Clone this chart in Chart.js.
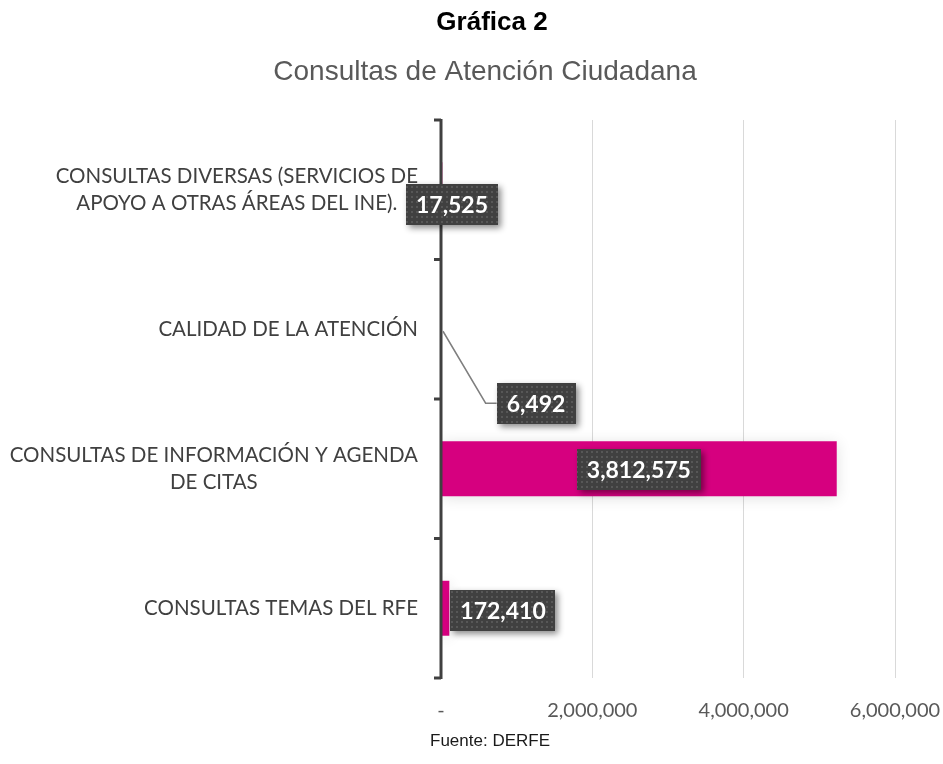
<!DOCTYPE html>
<html>
<head>
<meta charset="utf-8">
<script src="https://cdn.jsdelivr.net/npm/chart.js@4.4.1/dist/chart.umd.min.js"></script>
<style>
  html, body { margin: 0; padding: 0; background: #fff; }
  #wrap { width: 943px; height: 764px; position: relative; }
</style>
</head>
<body>
<div id="wrap"><canvas id="chart"></canvas></div>
<script>
// ----------- Data -----------
const categories = [
  ["CONSULTAS DIVERSAS (SERVICIOS DE", "APOYO A OTRAS ÁREAS DEL INE)."],
  ["CALIDAD DE LA ATENCIÓN"],
  ["CONSULTAS DE INFORMACIÓN Y AGENDA", "DE CITAS"],
  ["CONSULTAS TEMAS DEL RFE"],
];
// bar lengths as drawn in the picture
const barValues = [17525, 6492, 5230000, 110000];
// numbers printed on the labels
const labelTexts = ["17,525", "6,492", "3,812,575", "172,410"];
const xTicks = [0, 2000000, 4000000, 6000000];

const titleText = "Gráfica 2";
const subtitleText = "Consultas de Atención Ciudadana";
const sourceText = "Fuente: DERFE";

const MAGENTA = "#d6007f";
const LABEL_FONT = "Lato, 'Open Sans', sans-serif";

// dotted fill for the label boxes
function makeDotPattern(ctx) {
  const c = document.createElement("canvas");
  c.width = 5; c.height = 5;
  const p = c.getContext("2d");
  p.fillStyle = "#404040";
  p.fillRect(0, 0, 5, 5);
  p.fillStyle = "#575757";
  p.fillRect(1, 1, 2, 2);
  return ctx.createPattern(c, "repeat");
}

// ----------- Plugins -----------
const textPlugin = {
  id: "texts",
  afterDraw(chart) {
    const ctx = chart.ctx;
    ctx.save();
    ctx.textAlign = "center";
    ctx.textBaseline = "middle";
    ctx.fillStyle = "#000";
    ctx.font = "bold 26px 'Liberation Sans', Arial, sans-serif";
    ctx.fillText(titleText, 492, 23);
    ctx.fillStyle = "#595959";
    ctx.font = "28px 'Liberation Sans', Arial, sans-serif";
    ctx.fillText(subtitleText, 485, 72);
    ctx.fillStyle = "#1a1a1a";
    ctx.font = "17px 'Liberation Sans', Arial, sans-serif";
    ctx.fillText(sourceText, 490, 741);
    ctx.restore();
  },
};

// category labels: lines centered, block right-aligned
const catLabelPlugin = {
  id: "catLabels",
  afterDraw(chart) {
    const ctx = chart.ctx;
    const y = chart.scales.y;
    const right = chart.chartArea.left - 23;
    const lh = 27;
    ctx.save();
    ctx.font = "20.5px " + LABEL_FONT;
    ctx.fillStyle = "#404040";
    ctx.textAlign = "center";
    ctx.textBaseline = "middle";
    categories.forEach((lines, i) => {
      const cy = y.getPixelForValue(i);
      const w = Math.max(...lines.map((l) => ctx.measureText(l).width));
      const cx = right - w / 2;
      lines.forEach((l, k) => {
        ctx.fillText(l, cx, cy + (k - (lines.length - 1) / 2) * lh);
      });
    });
    ctx.restore();
  },
};

// y axis: dark line with ticks to the left at category edges
const axisPlugin = {
  id: "axisLine",
  afterDatasetsDraw(chart) {
    const ctx = chart.ctx;
    const { left, top, bottom } = chart.chartArea;
    const n = categories.length;
    ctx.save();
    ctx.strokeStyle = "#404040";
    ctx.lineWidth = 3;
    ctx.beginPath();
    ctx.moveTo(left, top - 1);
    ctx.lineTo(left, bottom + 1);
    ctx.stroke();
    for (let i = 0; i <= n; i++) {
      const yy = top + ((bottom - top) * i) / n;
      ctx.beginPath();
      ctx.moveTo(left - 7, yy);
      ctx.lineTo(left, yy);
      ctx.stroke();
    }
    ctx.restore();
  },
};

const dataLabelPlugin = {
  id: "boxLabels",
  afterDatasetsDraw(chart) {
    const ctx = chart.ctx;
    const xs = chart.scales.x;
    const ys = chart.scales.y;
    const x0 = xs.getPixelForValue(0);
    const pattern = makeDotPattern(ctx);
    ctx.save();
    ctx.font = "bold 23px " + LABEL_FONT;
    labelTexts.forEach((txt, i) => {
      const cy = ys.getPixelForValue(i);
      const xe = xs.getPixelForValue(barValues[i]);
      const w = ctx.measureText(txt).width + 20;
      const h = 41;
      let cx, by;
      if (i === 0) { cx = x0 + 11; by = cy + 15; }
      else if (i === 1) { cx = x0 + 95; by = cy + 74; }
      else if (i === 2) { cx = (x0 + xe) / 2; by = cy + 1; }
      else { cx = xe + w / 2 + 1; by = cy + 2; }

      if (i === 1) {
        // leader line
        ctx.strokeStyle = "#7f7f7f";
        ctx.lineWidth = 1.5;
        ctx.beginPath();
        ctx.moveTo(x0 + 2, cy + 2);
        ctx.lineTo(cx - w / 2 - 11, by);
        ctx.lineTo(cx - w / 2, by);
        ctx.stroke();
      }

      ctx.save();
      ctx.shadowColor = "rgba(0,0,0,0.45)";
      ctx.shadowBlur = 6;
      ctx.shadowOffsetX = 3;
      ctx.shadowOffsetY = 3;
      ctx.fillStyle = pattern;
      ctx.fillRect(Math.round(cx - w / 2), Math.round(by - h / 2), Math.round(w), h);
      ctx.restore();

      ctx.fillStyle = "#fff";
      ctx.textAlign = "center";
      ctx.textBaseline = "middle";
      ctx.fillText(txt, cx, by + 1);
    });
    ctx.restore();
  },
};

const barShadowPlugin = {
  id: "barShadow",
  beforeDatasetDraw(chart) {
    const ctx = chart.ctx;
    ctx.save();
    ctx.shadowColor = "rgba(0,0,0,0.12)";
    ctx.shadowBlur = 14;
    ctx.shadowOffsetY = 2;
  },
  afterDatasetDraw(chart) {
    chart.ctx.restore();
  },
};

// ----------- Chart -----------
const ctx = document.getElementById("chart").getContext("2d");
new Chart(ctx, {
  type: "bar",
  data: {
    labels: categories,
    datasets: [
      {
        data: barValues,
        backgroundColor: MAGENTA,
        borderWidth: 0,
        barPercentage: 1,
        categoryPercentage: 0.394,
      },
    ],
  },
  options: {
    indexAxis: "y",
    responsive: true,
    maintainAspectRatio: false,
    animation: false,
    layout: { padding: { top: 120, right: 48, bottom: 40, left: 0 } },
    plugins: {
      legend: { display: false },
      tooltip: { enabled: false },
    },
    scales: {
      x: {
        min: 0,
        max: 6000000,
        afterBuildTicks: (s) => { s.ticks = xTicks.map((v) => ({ value: v })); },
        afterFit: (s) => {
          s.height = 46;
          s.paddingLeft = 0;
          s.paddingRight = 0;
        },
        border: { display: false },
        grid: { color: "#d9d9d9", lineWidth: 1, drawTicks: false },
        ticks: {
          padding: 21,
          color: "#595959",
          font: { family: LABEL_FONT, size: 20 },
          callback: (v) => (v === 0 ? "-" : v.toLocaleString("en-US")),
        },
      },
      y: {
        afterFit: (s) => { s.width = 441; },
        border: { display: false },
        grid: { display: false },
        ticks: { display: false },
      },
    },
  },
  plugins: [barShadowPlugin, axisPlugin, dataLabelPlugin, catLabelPlugin, textPlugin],
});
</script>
</body>
</html>
